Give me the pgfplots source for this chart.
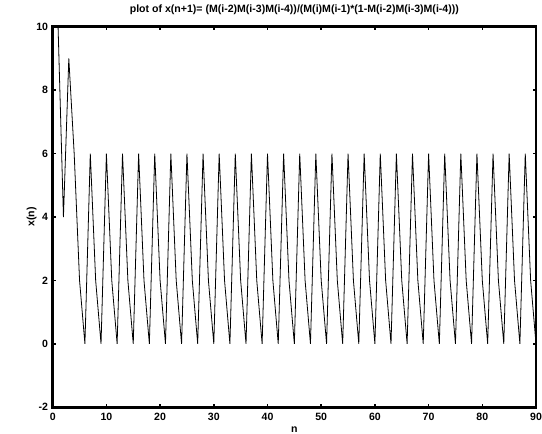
\documentclass[border=0pt]{standalone}
\usepackage{fontspec}
\setmainfont{Liberation Sans}
\usepackage{pgfplots}
\pgfplotsset{compat=1.18}
\begin{document}
\begin{tikzpicture}[x=1bp,y=1bp]
\path[use as bounding box] (-52.7,-26.7) rectangle (489.3,407.3);
\begin{axis}[
  at={(0,0)}, anchor=south west,
  scale only axis,
  width=483.3bp, height=380.6bp,
  xmin=0, xmax=90, ymin=-2, ymax=10,
  xtick={0,10,...,90},
  xticklabels={0,10,20,30,40,50,60,70,80,90},
  ytick={-2,0,2,4,6,8,10},
  yticklabels={-2,0,2,4,6,8,10},
  tick align=inside,
  major tick length=3.5bp,
  every tick/.style={black, line width=1.5bp},
  axis line style={line width=2.6bp, black},
  font=\fontsize{10.6}{12}\selectfont\bfseries,
  xticklabel style={inner sep=0pt, anchor=north, yshift=-6bp},
  yticklabel style={inner sep=0pt, anchor=east, xshift=-4.5bp},
  title={plot of x(n+1)= (M(i-2)M(i-3)M(i-4))/(M(i)M(i-1)*(1-M(i-2)M(i-3)M(i-4)))},
  title style={at={(axis description cs:0.5,1)}, anchor=base, inner sep=0pt, yshift=8bp},
  xlabel={n},
  xlabel style={at={(axis description cs:0.5,0)}, anchor=base, inner sep=0pt, yshift=-25.5bp},
  ylabel={x(n)},
  ylabel style={at={(axis description cs:0,0.5)}, anchor=center, inner sep=0pt, yshift=21bp},
  clip=true,
]
\addplot[black, line width=0.8bp, mark=none] coordinates {
(1,10)(2,4)(3,9)(4,6)(5,2)(6,0)
(7,6)(8,2)(9,0)(10,6)(11,2)(12,0)(13,6)(14,2)(15,0)
(16,6)(17,2)(18,0)(19,6)(20,2)(21,0)(22,6)(23,2)(24,0)
(25,6)(26,2)(27,0)(28,6)(29,2)(30,0)(31,6)(32,2)(33,0)
(34,6)(35,2)(36,0)(37,6)(38,2)(39,0)(40,6)(41,2)(42,0)
(43,6)(44,2)(45,0)(46,6)(47,2)(48,0)(49,6)(50,2)(51,0)
(52,6)(53,2)(54,0)(55,6)(56,2)(57,0)(58,6)(59,2)(60,0)
(61,6)(62,2)(63,0)(64,6)(65,2)(66,0)(67,6)(68,2)(69,0)
(70,6)(71,2)(72,0)(73,6)(74,2)(75,0)(76,6)(77,2)(78,0)
(79,6)(80,2)(81,0)(82,6)(83,2)(84,0)(85,6)(86,2)(87,0)
(88,6)(89,2)(90,0)
};
\end{axis}
\end{tikzpicture}
\end{document}
